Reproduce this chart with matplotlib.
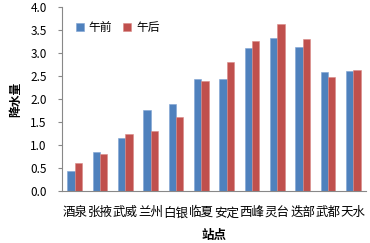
import matplotlib
matplotlib.use("Agg")
import matplotlib.pyplot as plt
import numpy as np

plt.rcParams['font.family'] = ['Noto Sans CJK SC', 'DejaVu Sans']

stations = ['酒泉', '张掖', '武威', '兰州', '白银', '临夏', '安定', '西峰', '灵台', '迭部', '武都', '天水']
morning = [0.44, 0.84, 1.16, 1.76, 1.89, 2.43, 2.43, 3.10, 3.32, 3.14, 2.59, 2.61]
afternoon = [0.60, 0.81, 1.23, 1.30, 1.61, 2.39, 2.81, 3.26, 3.62, 3.31, 2.47, 2.63]
yticks = [0.0, 0.5, 1.0, 1.5, 2.0, 2.5, 3.0, 3.5, 4.0]

fig = plt.figure(figsize=(3.70, 2.43), dpi=100)
ax = fig.add_axes([62/370, 1-191/243, 304/370, 184/243])

x = np.arange(len(stations))
w = 0.285
ax.bar(x - w/2, morning, w, color='#4F81BD', edgecolor='#7FA3D3', linewidth=0.4, label='午前')
ax.bar(x + w/2, afternoon, w, color='#C0504D', edgecolor='#D88A88', linewidth=0.4, label='午后')

ax.set_xlim(-0.5, len(stations) - 0.5)
ax.set_ylim(0, 4.0)
ax.set_yticks(yticks)
ax.set_yticklabels([f'{v:.1f}' for v in yticks], fontsize=8.5)
ax.set_xticks(x)
ax.set_xticklabels(stations, fontsize=9)
ax.tick_params(axis='x', length=0, pad=11)
ax.tick_params(axis='y', length=3, color='#888888', pad=8)

for s in ['top', 'right']:
    ax.spines[s].set_visible(False)
for s in ['left', 'bottom']:
    ax.spines[s].set_color('#888888')
    ax.spines[s].set_linewidth(0.8)

ax.set_ylabel('降水量', fontsize=8.5, fontweight='bold', labelpad=6)
ax.set_xlabel('站点', fontsize=9, fontweight='bold', labelpad=7)

ax.legend(loc='upper left', bbox_to_anchor=(0.03, 0.95), ncol=2, frameon=False,
          fontsize=8.5, handlelength=0.7, handleheight=0.7, handletextpad=0.4,
          columnspacing=0.9, borderaxespad=0)

fig.savefig('out.png', dpi=100)
